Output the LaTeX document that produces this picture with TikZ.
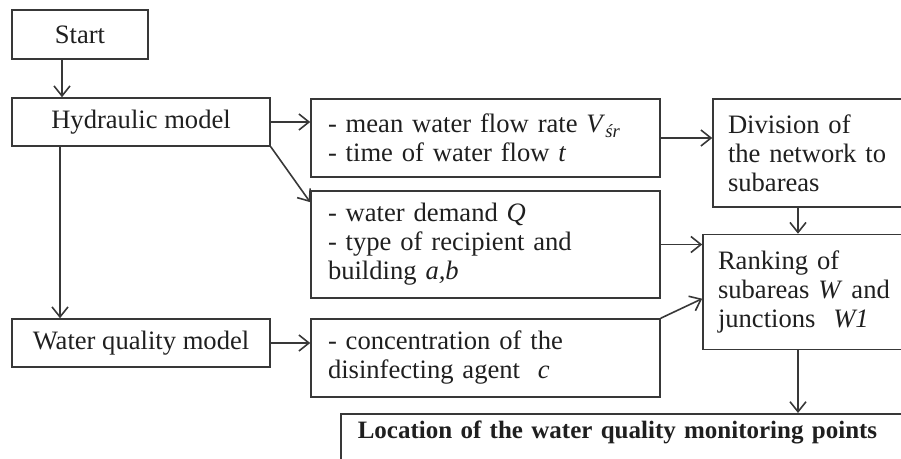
\documentclass[tikz,border=0pt]{standalone}
\usepackage{fontspec}
\setmainfont{Liberation Serif}
\usetikzlibrary{arrows.meta}
\definecolor{linec}{gray}{0.22}
\definecolor{textc}{gray}{0.12}
\begin{document}
\begin{tikzpicture}[x=0.5pt,y=-0.5pt,
  font=\fontsize{13.3}{14.5}\selectfont,
  box/.style={draw=linec, line width=0.8pt, text=textc, inner ysep=2pt},
  plainbox/.style={box, minimum width=#1, align=center},
  listbox/.style={box, align=left, inner xsep=8.5pt},
  arr/.style={draw=linec, line width=0.8pt, -{Straight Barb[length=5pt,width=8pt,line width=0.8pt]}}]
\useasboundingbox (0,0) rectangle (901,459);
\clip (0,0) rectangle (901,459);

% left column
\node[plainbox=68pt, minimum height=24.5pt] (start) at (80,34.5) {Start};
\node[plainbox=129pt, minimum height=24pt] (hyd) at (141,122) {Hydraulic model};
\node[plainbox=129pt, minimum height=24pt] (wqm) at (141,343) {Water quality model};

% middle column
\node[listbox, text width=157.5pt, minimum height=39pt] (mean) at (485.5,138)
  {- mean water flow rate \textit{V}\textsubscript{\textit{śr}}\\- time of water flow \textit{t}};
\node[listbox, text width=157.5pt, minimum height=53.5pt] (demand) at (485.5,244.5)
  {- water demand \textit{Q}\\- type of recipient and\\building \textit{a,b}};
\node[listbox, text width=157.5pt, minimum height=39pt] (conc) at (485.5,358)
  {- concentration of the\\disinfecting agent\ \ \textit{c}};

% right column
\node[listbox, inner xsep=7.5pt, text width=85pt, minimum height=54pt] (div) at (813,153)
  {Division of\\the network to\\subareas};
\node[listbox, inner xsep=7.5pt, text width=90pt, minimum height=57.5pt] (rank) at (808,292)
  {Ranking of\\subareas \textit{W} and\\junctions\ \ \textit{W1}};

% result
\node[listbox, anchor=north west, text width=283pt, inner ysep=3.5pt, text depth=30pt,
  font=\fontsize{12.5}{14.5}\selectfont\bfseries] (loc) at (340,413)
  {Location of the water quality monitoring points};

% connectors
\draw[arr] ([xshift=-9pt]start.south) -- ([xshift=-9pt]start.south |- hyd.north);
\draw[arr] ([xshift=-40.5pt]hyd.south) -- ([xshift=-40.5pt]hyd.south |- wqm.north);
\draw[arr] (hyd.east) -- (hyd.east -| mean.west);
\draw[arr] (hyd.south east) -- ([yshift=-6pt]demand.north west);
\draw[arr] (wqm.east) -- (wqm.east -| conc.west);
\draw[arr] (mean.east) -- (mean.east -| div.west);
\draw[arr] (demand.east) -- (demand.east -| rank.west);
\draw[arr] (conc.north east) -- ([yshift=-32.5pt]rank.north west);
\draw[arr] ([xshift=-7.5pt]div.south) -- ([xshift=-7.5pt]div.south |- rank.north);
\draw[arr] ([xshift=-5pt]rank.south) -- ([xshift=-5pt]rank.south |- loc.north);
\end{tikzpicture}
\end{document}
